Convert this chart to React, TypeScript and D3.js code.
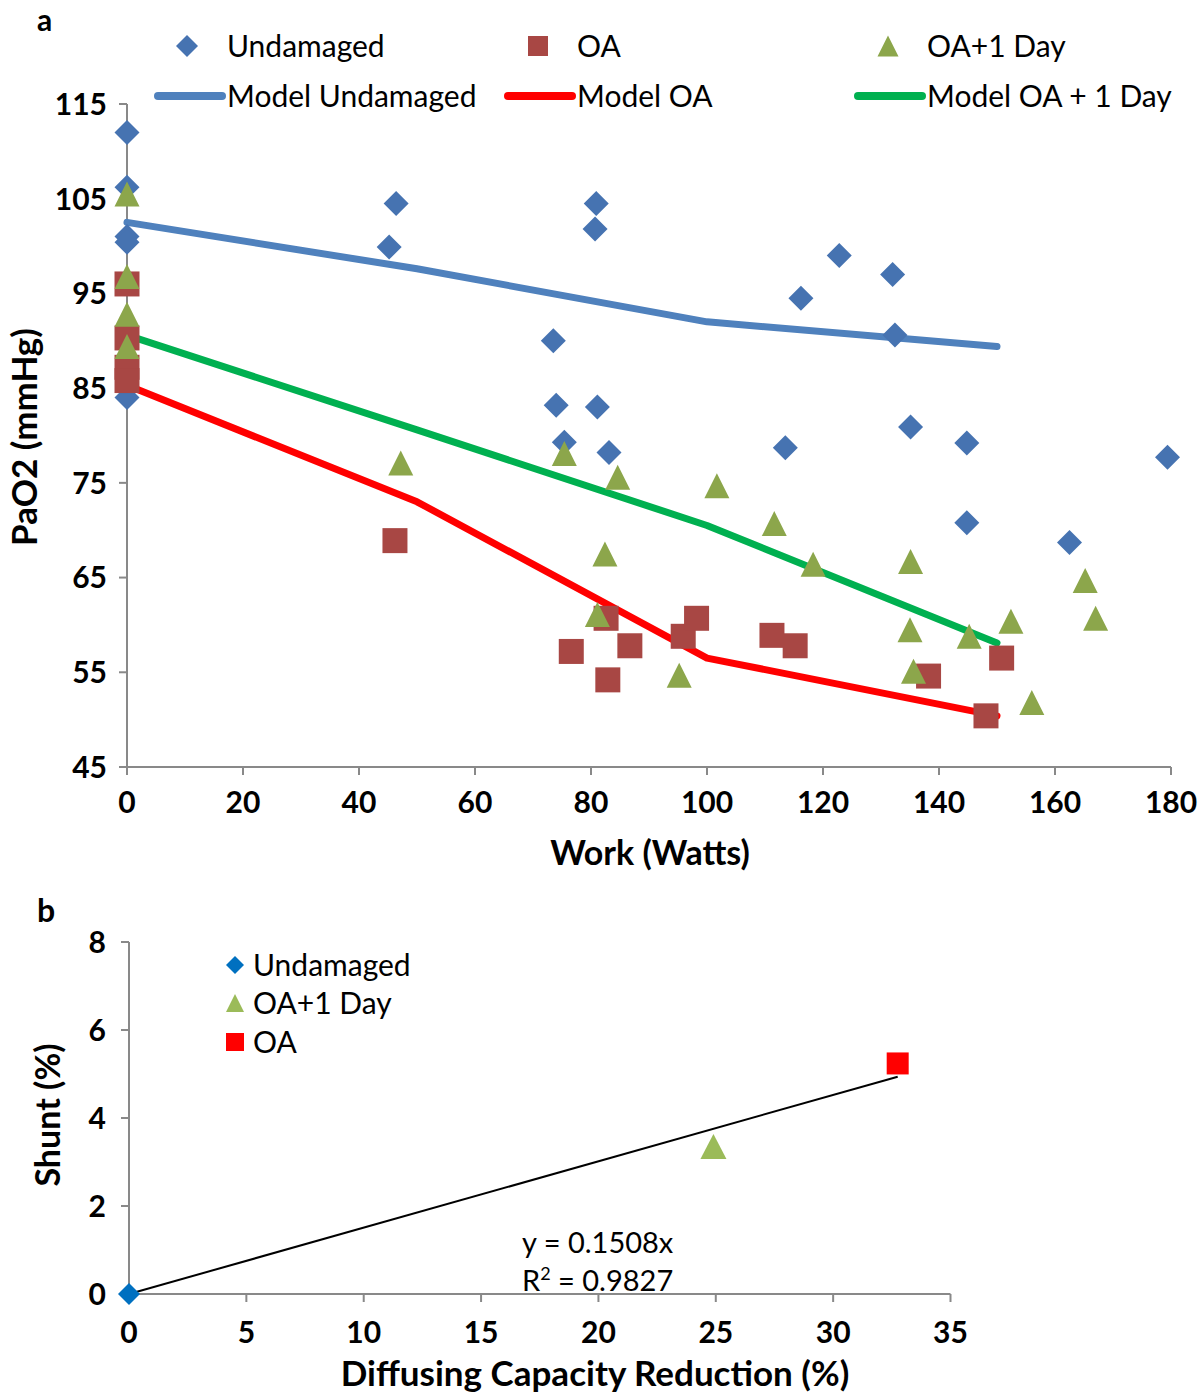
import React from "react";
import * as d3 from "d3";

// ---------- Panel a data ----------
const undamagedWork = [0, 0, 0, 0, 0, 45.2, 46.4, 73.5, 74.0, 75.4, 80.7, 80.9, 81.1, 83.1, 113.5, 116.2, 122.8, 132.0, 132.4, 135.1, 144.8, 144.8, 162.5, 179.4];
const undamagedPaO2 = [112.0, 106.2, 101.0, 100.4, 84.0, 99.9, 104.5, 90.0, 83.2, 79.3, 101.8, 104.5, 83.0, 78.2, 78.7, 94.5, 99.0, 97.0, 90.6, 80.9, 79.2, 70.8, 68.7, 77.7];

const oaWork = [0, 0, 0, 0, 46.2, 76.6, 82.6, 82.9, 86.7, 95.9, 98.2, 111.2, 115.2, 138.2, 148.1, 150.8];
const oaPaO2 = [96.0, 90.3, 87.2, 85.8, 68.9, 57.2, 60.7, 54.2, 57.8, 58.8, 60.7, 58.9, 57.8, 54.6, 50.4, 56.5];

const oa1Work = [0, 0, 0, 0, 47.2, 75.4, 81.1, 82.4, 84.6, 95.2, 101.7, 111.6, 118.3, 135.0, 135.1, 135.6, 145.2, 152.4, 156.0, 165.2, 167.0];
const oa1PaO2 = [105.5, 96.8, 92.8, 89.4, 77.1, 78.1, 61.1, 67.5, 75.6, 54.7, 74.7, 70.7, 66.4, 59.5, 66.7, 55.1, 58.8, 60.4, 51.8, 64.7, 60.7];

const modelWork = [0, 50, 100, 150];
const modelUndamaged = [102.5, 97.6, 92.0, 89.4];
const modelOA = [85.3, 73.0, 56.5, 50.4];
const modelOA1 = [90.6, 80.6, 70.5, 58.1];

const workTicks = [0, 20, 40, 60, 80, 100, 120, 140, 160, 180];
const pao2Ticks = [45, 55, 65, 75, 85, 95, 105, 115];

// ---------- Panel b data ----------
const dcrUndamaged = [0];
const shuntUndamaged = [0];
const dcrOA1 = [24.9];
const shuntOA1 = [3.35];
const dcrOA = [32.75];
const shuntOA = [5.24];
const trendSlope = 0.1508;
const trendRange = [0, 32.75];
const dcrTicks = [0, 5, 10, 15, 20, 25, 30, 35];
const shuntTicks = [0, 2, 4, 6, 8];

const FONT = "Lato, 'Open Sans', sans-serif";
const AXIS = "#898989";

const C_DIAMOND = "#4673B1";
const C_SQUARE = "#A84744";
const C_TRI = "#8CA64B";

function diamondPath(cx: number, cy: number, r: number) {
  return `M${cx},${cy - r}L${cx + r},${cy}L${cx},${cy + r}L${cx - r},${cy}Z`;
}
function squarePath(cx: number, cy: number, h: number) {
  return `M${cx - h},${cy - h}H${cx + h}V${cy + h}H${cx - h}Z`;
}
function triPath(cx: number, cy: number, w: number, h: number) {
  return `M${cx},${cy - h / 2}L${cx + w / 2},${cy + h / 2}L${cx - w / 2},${cy + h / 2}Z`;
}

export default function App() {
  // Panel a scales
  const x = d3.scaleLinear().domain([0, 180]).range([127, 1171]);
  const y = d3.scaleLinear().domain([45, 115]).range([767, 104]);
  const line = d3
    .line<number>()
    .x((_, i) => x(modelWork[i]))
    .y((d) => y(d));

  // Panel b scales
  const x2 = d3.scaleLinear().domain([0, 35]).range([129, 950.5]);
  const y2 = d3.scaleLinear().domain([0, 8]).range([1294, 942]);
  const trend = d3
    .line<number>()
    .x((d) => x2(d))
    .y((d) => y2(trendSlope * d));

  return (
    <svg
      width={1200}
      height={1398}
      style={{ position: "absolute", left: 0, top: 0, background: "#fff" }}
      fontFamily={FONT}
    >
      <rect width={1200} height={1398} fill="#fff" />
      {/* ================= Panel a ================= */}
      <text x={37} y={31} fontSize={30} fontWeight="bold">a</text>

      {/* axes */}
      <line x1={x(0)} x2={x(0)} y1={y(115)} y2={y(45)} stroke={AXIS} strokeWidth={2} />
      <line x1={x(0)} x2={x(180)} y1={y(45)} y2={y(45)} stroke={AXIS} strokeWidth={2} />
      {pao2Ticks.map((t) => (
        <g key={"yt" + t}>
          <line x1={x(0) - 8} x2={x(0)} y1={y(t)} y2={y(t)} stroke={AXIS} strokeWidth={2} />
          <text x={107} y={y(t)} dy="0.36em" textAnchor="end" fontSize={30} fontWeight="bold">
            {t}
          </text>
        </g>
      ))}
      {workTicks.map((t) => (
        <g key={"xt" + t}>
          <line x1={x(t)} x2={x(t)} y1={y(45)} y2={y(45) + 8} stroke={AXIS} strokeWidth={2} />
          <text x={x(t)} y={y(45) + 35} dy="0.36em" textAnchor="middle" fontSize={30} fontWeight="bold">
            {t}
          </text>
        </g>
      ))}
      <text x={650} y={853} dy="0.36em" textAnchor="middle" fontSize={34} fontWeight="bold">
        Work (Watts)
      </text>
      <text
        transform={`translate(24,437) rotate(-90)`}
        dy="0.36em"
        textAnchor="middle"
        fontSize={35}
        fontWeight="bold"
      >
        PaO2 (mmHg)
      </text>

      {/* model lines */}
      <path d={line(modelUndamaged) || ""} fill="none" stroke="#4F81BD" strokeWidth={7} strokeLinecap="round" strokeLinejoin="round" />
      <path d={line(modelOA) || ""} fill="none" stroke="#FF0000" strokeWidth={7} strokeLinecap="round" strokeLinejoin="round" />
      <path d={line(modelOA1) || ""} fill="none" stroke="#00B050" strokeWidth={7} strokeLinecap="round" strokeLinejoin="round" />

      {/* markers */}
      {undamagedWork.map((w, i) => (
        <path key={"u" + i} d={diamondPath(x(w), y(undamagedPaO2[i]), 12.5)} fill={C_DIAMOND} />
      ))}
      {oaWork.map((w, i) => (
        <path key={"o" + i} d={squarePath(x(w), y(oaPaO2[i]), 12.5)} fill={C_SQUARE} />
      ))}
      {oa1Work.map((w, i) => (
        <path key={"t" + i} d={triPath(x(w), y(oa1PaO2[i]), 25, 25)} fill={C_TRI} />
      ))}

      {/* legend */}
      <g fontSize={30}>
        <path d={diamondPath(187, 46, 11)} fill={C_DIAMOND} />
        <text x={227} y={46} dy="0.36em">Undamaged</text>
        <path d={squarePath(538, 46, 10)} fill={C_SQUARE} />
        <text x={577} y={46} dy="0.36em">OA</text>
        <path d={triPath(888, 46, 21, 21)} fill={C_TRI} />
        <text x={927} y={46} dy="0.36em">OA+1 Day</text>

        <line x1={158} x2={222} y1={96} y2={96} stroke="#4F81BD" strokeWidth={8} strokeLinecap="round" />
        <text x={227} y={96} dy="0.36em">Model Undamaged</text>
        <line x1={508} x2={572} y1={96} y2={96} stroke="#FF0000" strokeWidth={8} strokeLinecap="round" />
        <text x={577} y={96} dy="0.36em">Model OA</text>
        <line x1={858} x2={922} y1={96} y2={96} stroke="#00B050" strokeWidth={8} strokeLinecap="round" />
        <text x={927} y={96} dy="0.36em">Model OA + 1 Day</text>
      </g>

      {/* ================= Panel b ================= */}
      <text x={37} y={922} fontSize={32} fontWeight="bold">b</text>

      <line x1={x2(0)} x2={x2(0)} y1={y2(8)} y2={y2(0)} stroke={AXIS} strokeWidth={2} />
      <line x1={x2(0)} x2={x2(35)} y1={y2(0)} y2={y2(0)} stroke={AXIS} strokeWidth={2} />
      {shuntTicks.map((t) => (
        <g key={"y2t" + t}>
          <line x1={x2(0) - 8} x2={x2(0)} y1={y2(t)} y2={y2(t)} stroke={AXIS} strokeWidth={2} />
          <text x={106} y={y2(t)} dy="0.36em" textAnchor="end" fontSize={30} fontWeight="bold">
            {t}
          </text>
        </g>
      ))}
      {dcrTicks.map((t) => (
        <g key={"x2t" + t}>
          <line x1={x2(t)} x2={x2(t)} y1={y2(0)} y2={y2(0) + 8} stroke={AXIS} strokeWidth={2} />
          <text x={x2(t)} y={y2(0) + 38} dy="0.36em" textAnchor="middle" fontSize={30} fontWeight="bold">
            {t}
          </text>
        </g>
      ))}
      <text x={595} y={1373} dy="0.36em" textAnchor="middle" fontSize={35} fontWeight="bold">
        Diffusing Capacity Reduction (%)
      </text>
      <text
        transform={`translate(48,1115) rotate(-90)`}
        dy="0.36em"
        textAnchor="middle"
        fontSize={34}
        fontWeight="bold"
      >
        Shunt (%)
      </text>

      <path d={trend(trendRange) || ""} fill="none" stroke="#000" strokeWidth={2} />

      {dcrUndamaged.map((d, i) => (
        <path key={"bu" + i} d={diamondPath(x2(d), y2(shuntUndamaged[i]), 11)} fill="#0070C0" />
      ))}
      {dcrOA1.map((d, i) => (
        <path key={"bt" + i} d={triPath(x2(d), y2(shuntOA1[i]), 26, 25)} fill="#9BBB59" />
      ))}
      {dcrOA.map((d, i) => (
        <path key={"bs" + i} d={squarePath(x2(d), y2(shuntOA[i]), 11)} fill="#FF0000" />
      ))}

      <g fontSize={30}>
        <path d={diamondPath(235, 965, 9)} fill="#0070C0" />
        <text x={253} y={965} dy="0.36em">Undamaged</text>
        <path d={triPath(235, 1003, 18, 18)} fill="#9BBB59" />
        <text x={253} y={1003} dy="0.36em">OA+1 Day</text>
        <path d={squarePath(235, 1042, 9)} fill="#FF0000" />
        <text x={253} y={1042} dy="0.36em">OA</text>
      </g>

      <g fontSize={29}>
        <text x={522} y={1243} dy="0.36em">y = 0.1508x</text>
        <text x={522} y={1281} dy="0.36em">
          R<tspan fontSize={18} dy="-11">2</tspan>
          <tspan dy="11"> = 0.9827</tspan>
        </text>
      </g>
    </svg>
  );
}
